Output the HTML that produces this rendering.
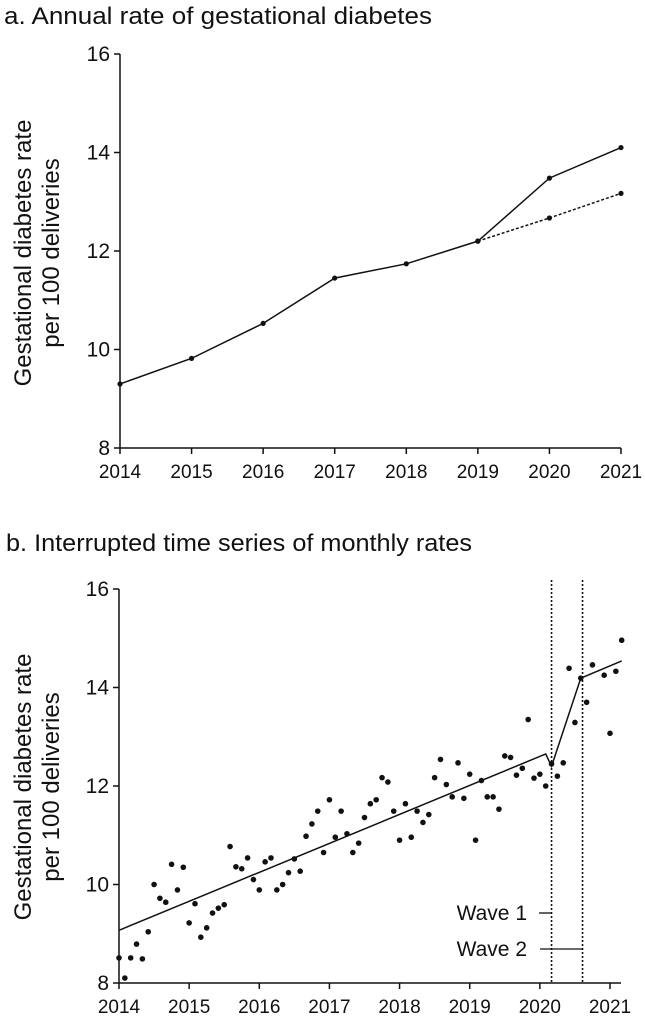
<!DOCTYPE html>
<html><head><meta charset="utf-8">
<style>
html,body{margin:0;padding:0;background:#fff;}
svg{display:block;font-family:"Liberation Sans",Arial,sans-serif;}
</style></head>
<body>
<svg id="chart" width="645" height="1019" viewBox="0 0 645 1019" xmlns="http://www.w3.org/2000/svg">
<text x="4" y="24" font-size="24" fill="#111" textLength="428" lengthAdjust="spacingAndGlyphs">a. Annual rate of gestational diabetes</text>
<g transform="translate(31,253) rotate(-90)" font-size="24" fill="#111" text-anchor="middle">
<text x="0" y="0">Gestational diabetes rate</text><text x="0" y="28">per 100 deliveries</text></g>
<text x="6" y="551" font-size="24" fill="#111" textLength="466" lengthAdjust="spacingAndGlyphs">b. Interrupted time series of monthly rates</text>
<g transform="translate(31,787) rotate(-90)" font-size="24" fill="#111" text-anchor="middle">
<text x="0" y="0">Gestational diabetes rate</text><text x="0" y="28">per 100 deliveries</text></g>
<g id="pa"></g>
<g id="pb"></g>
</svg>
<script>
const yearsA = [2014,2015,2016,2017,2018,2019,2020,2021];
const observedA = [9.3,9.82,10.53,11.45,11.74,12.2,13.48,14.1];
const expectedYearsA = [2019,2020,2021];
const expectedA = [12.2,12.67,13.17];
const yTicks = [8,10,12,14,16];
const xTickYearsB = [2014,2015,2016,2017,2018,2019,2020,2021];
const monthIdxB = [0,1,2,3,4,5,6,7,8,9,10,11,12,13,14,15,16,17,18,19,20,21,22,23,24,25,26,27,28,29,30,31,32,33,34,35,36,37,38,39,40,41,42,43,44,45,46,47,48,49,50,51,52,53,54,55,56,57,58,59,60,61,62,63,64,65,66,67,68,69,70,71,72,73,74,75,76,77,78,79,80,81,83,84,85,86];
const monthlyB = [8.51,8.10,8.51,8.79,8.49,9.04,10.0,9.72,9.64,10.41,9.89,10.35,9.22,9.61,8.93,9.12,9.42,9.52,9.59,10.77,10.36,10.32,10.54,10.10,9.89,10.46,10.54,9.89,10.0,10.24,10.52,10.27,10.98,11.23,11.49,10.65,11.72,10.96,11.49,11.03,10.65,10.84,11.36,11.64,11.72,12.17,12.08,11.49,10.90,11.64,10.96,11.49,11.26,11.42,12.17,12.54,12.03,11.78,12.47,11.75,12.24,10.90,12.11,11.78,11.78,11.53,12.61,12.58,12.22,12.36,13.35,12.16,12.24,12.0,12.45,12.2,12.47,14.39,13.29,14.19,13.70,14.46,14.25,13.07,14.33,14.96];
const trendMonthB = [0,73,74,79,86];
const trendValB = [9.07,12.65,12.4,14.19,14.54];
const waveStartMonth = [74,79.3];
const waveLabels = ["Wave 1","Wave 2"];

const NS="http://www.w3.org/2000/svg";
function mk(parent,tag,attrs){const e=document.createElementNS(NS,tag);for(const k in attrs)e.setAttribute(k,attrs[k]);parent.appendChild(e);return e;}

// Panel A
const pa=document.getElementById('pa');
const xA=y=>120+(y-2014)*(621-120)/7;
const yA=v=>448-(v-8)*(448-54)/8;
let e;
e=mk(pa,'line',{x1:120,y1:yA(16),x2:120,y2:448,stroke:'#111','stroke-width':1.5});


e=mk(pa,'line',{x1:120,y1:448,x2:621,y2:448,stroke:'#111','stroke-width':1.5});


yTicks.forEach(t=>{
 e=mk(pa,'line',{x1:114,y1:yA(t),x2:120,y2:yA(t),stroke:'#111','stroke-width':1.5});
 
 
 e=mk(pa,'text',{x:110,y:yA(t)+7,'font-size':21,'text-anchor':'end',fill:'#111'});e.textContent=t;
 
 
});
yearsA.forEach(t=>{
 e=mk(pa,'line',{x1:xA(t),y1:448,x2:xA(t),y2:454,stroke:'#111','stroke-width':1.5});
 
 
 e=mk(pa,'text',{x:Math.min(xA(t),622),y:478,'font-size':19,'text-anchor':'middle',fill:'#111'});e.textContent=t;
 
 
});
e=mk(pa,'polyline',{points:expectedYearsA.map((y,i)=>xA(y)+','+yA(expectedA[i])).join(' '),fill:'none',stroke:'#111','stroke-width':1.5,'stroke-dasharray':'3,2'});


e=mk(pa,'polyline',{points:yearsA.map((y,i)=>xA(y)+','+yA(observedA[i])).join(' '),fill:'none',stroke:'#111','stroke-width':1.5});


yearsA.forEach((y,i)=>{e=mk(pa,'circle',{cx:xA(y),cy:yA(observedA[i]),r:2.6,fill:'#111'});
 
 });
expectedYearsA.forEach((y,i)=>{e=mk(pa,'circle',{cx:xA(y),cy:yA(expectedA[i]),r:2.6,fill:'#111'});
 
 });

// Panel B
const pb=document.getElementById('pb');
const xB=m=>119+m*(610-119)/84;
const yB=v=>983-(v-8)*(983-589)/8;
e=mk(pb,'line',{x1:119,y1:yB(16),x2:119,y2:983,stroke:'#111','stroke-width':1.5});


e=mk(pb,'line',{x1:119,y1:983,x2:621,y2:983,stroke:'#111','stroke-width':1.5});


yTicks.forEach(t=>{
 e=mk(pb,'line',{x1:113,y1:yB(t),x2:119,y2:yB(t),stroke:'#111','stroke-width':1.5});
 
 
 e=mk(pb,'text',{x:109,y:yB(t)+7,'font-size':21,'text-anchor':'end',fill:'#111'});e.textContent=t;
 
 
});
xTickYearsB.forEach(t=>{
 const x=xB((t-2014)*12);
 e=mk(pb,'line',{x1:x,y1:983,x2:x,y2:989,stroke:'#111','stroke-width':1.5});
 
 
 e=mk(pb,'text',{x:x,y:1013,'font-size':19,'text-anchor':'middle',fill:'#111'});e.textContent=t;
 
 
});
waveStartMonth.forEach((m,i)=>{
 const x=xB(m);
 e=mk(pb,'line',{x1:x,y1:580,x2:x,y2:983,stroke:'#111','stroke-width':1.6,'stroke-dasharray':'2,2'});
 
 
 const ly=i===0?913:949;
 const lx0=i===0?539:540;
 e=mk(pb,'line',{x1:lx0,y1:ly,x2:x,y2:ly,stroke:'#111','stroke-width':1.3});
 
 
 e=mk(pb,'text',{x:527,y:ly+7,'font-size':21,'text-anchor':'end',fill:'#111'});e.textContent=waveLabels[i];
 
 
});
e=mk(pb,'polyline',{points:trendMonthB.map((m,i)=>xB(m)+','+yB(trendValB[i])).join(' '),fill:'none',stroke:'#111','stroke-width':1.5});


monthIdxB.forEach((m,i)=>{e=mk(pb,'circle',{cx:xB(m),cy:yB(monthlyB[i]),r:2.8,fill:'#111'});
 
 });
</script>
</body></html>
